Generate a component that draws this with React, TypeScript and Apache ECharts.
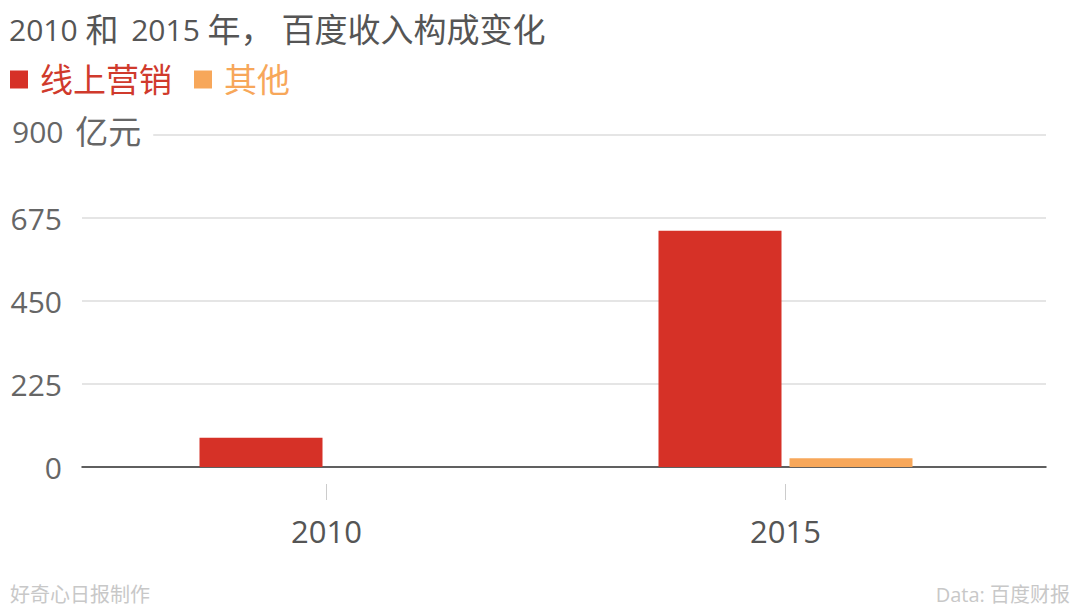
import React, { useEffect, useRef } from "react";
import * as echarts from "echarts";

const titleParts = [
  { t: "2010 ", k: "d" },
  { t: "和", k: "c" },
  { t: " 2015 ", k: "d2" },
  { t: "年，", k: "c" },
  { t: "百度收入构成变化", k: "c2" },
];
const categories = ["2010", "2015"];
const seriesNames = ["线上营销", "其他"];
const onlineMarketing = [79.1, 640.4];
const others = [0, 23.5];
const yTicks = [0, 225, 450, 675, 900];
const yUnit = "亿元";
const footerLeft = "好奇心日报制作";
const footerRight = "Data: 百度财报";

const RED = "#d63127";
const ORANGE = "#f7a75a";
const FONT = '"Open Sans", "Noto Sans CJK SC", sans-serif';

export default function App() {
  const ref = useRef<HTMLDivElement>(null);
  useEffect(() => {
    if (!ref.current) return;
    const chart = echarts.init(ref.current, undefined, { renderer: "svg" });
    const yMax = yTicks[yTicks.length - 1];
    const interval = yTicks[1] - yTicks[0];
    const tc = "#555555";
    chart.setOption({
      animation: false,
      backgroundColor: "#ffffff",
      textStyle: { fontFamily: FONT },
      title: {
        text: titleParts.map((p) => `{${p.k}|${p.t}}`).join(""),
        left: 4,
        top: 8,
        textStyle: {
          fontSize: 30,
          fontWeight: "normal",
          color: tc,
          fontFamily: FONT,
          rich: {
            d: { fontSize: 30, color: tc, fontFamily: FONT },
            d2: { fontSize: 30, color: tc, fontFamily: FONT, padding: [0, 0, 0, 5] },
            c: { fontSize: 33, color: tc, fontFamily: FONT },
            c2: { fontSize: 33, color: tc, fontFamily: FONT, padding: [0, 0, 0, 8] },
          },
        },
      },
      legend: {
        left: 5,
        top: 58,
        icon: "rect",
        itemWidth: 18,
        itemHeight: 18,
        itemGap: 22,
        data: [
          { name: seriesNames[0], textStyle: { color: "#d03a2c" } },
          { name: seriesNames[1], textStyle: { color: ORANGE } },
        ],
        textStyle: { fontSize: 33, fontFamily: FONT, padding: [0, 0, 0, 7] },
      },
      grid: [
        { left: 82, right: 34, top: 135, bottom: 141 },
        { left: 97, right: 65, top: 135, bottom: 141 },
      ],
      xAxis: [
        {
          gridIndex: 0,
          type: "category",
          data: categories,
          axisLine: { show: true, lineStyle: { color: "#333333", width: 1.5 } },
          axisTick: { show: false },
          axisLabel: { show: false },
        },
        {
          gridIndex: 1,
          type: "category",
          data: categories,
          offset: 17,
          axisLine: { show: false, onZero: false },
          axisTick: { show: true, alignWithLabel: true, length: 16, lineStyle: { color: "#cccccc" } },
          axisLabel: { margin: 31, fontSize: 31, color: "#555555", fontFamily: FONT },
        },
      ],
      yAxis: [
        {
          gridIndex: 0,
          type: "value",
          min: 0,
          max: yMax,
          interval,
          axisLine: { show: false },
          axisTick: { show: false },
          splitLine: { lineStyle: { color: "#dddddd", width: 1.5 } },
          axisLabel: {
            margin: 20,
            fontSize: 30,
            color: "#666666",
            fontFamily: FONT,
            formatter: (v: number) => (v === yMax ? "" : String(v)),
          },
        },
        { gridIndex: 1, type: "value", min: 0, max: yMax, interval, show: false },
      ],
      series: [
        {
          name: seriesNames[0],
          type: "bar",
          xAxisIndex: 1,
          yAxisIndex: 1,
          data: onlineMarketing,
          barWidth: 123,
          barGap: "6.5%",
          itemStyle: { color: RED },
        },
        {
          name: seriesNames[1],
          type: "bar",
          xAxisIndex: 1,
          yAxisIndex: 1,
          data: others,
          barWidth: 123,
          barGap: "6.5%",
          itemStyle: { color: ORANGE },
        },
      ],
      graphic: [
        {
          type: "text",
          left: 12,
          top: 115,
          z: 100,
          style: {
            text: `{n|${yMax} }{c|${yUnit}}`,
            fill: "#666666",
            fontFamily: FONT,
            backgroundColor: "#ffffff",
            padding: [0, 12, 0, 0],
            rich: {
              n: { fontSize: 30, fill: "#666666", fontFamily: FONT },
              c: { fontSize: 33, fill: "#666666", fontFamily: FONT, padding: [0, 0, 0, 4] },
            },
          },
        },
        {
          type: "text",
          left: 10,
          bottom: 4,
          style: { text: footerLeft, fontSize: 20, fill: "#c8c8c8", fontFamily: FONT },
        },
        {
          type: "text",
          right: 10,
          bottom: 4,
          style: { text: footerRight, fontSize: 20, fill: "#c8c8c8", fontFamily: FONT },
        },
      ],
    });
    return () => chart.dispose();
  }, []);
  return <div ref={ref} style={{ width: 1080, height: 608, position: "absolute", left: 0, top: 0 }} />;
}
